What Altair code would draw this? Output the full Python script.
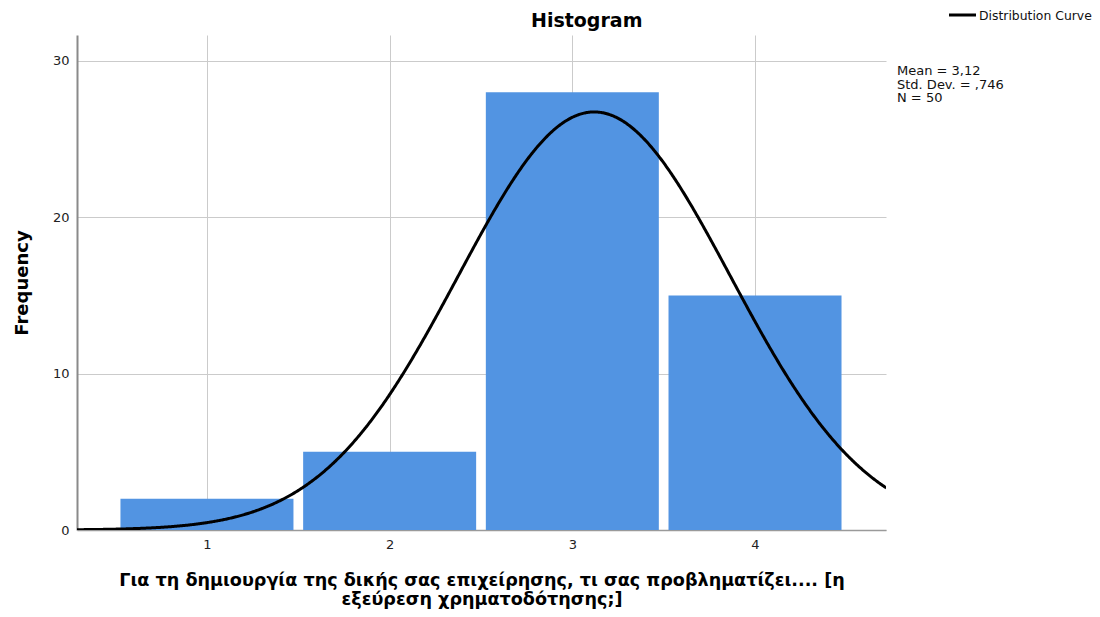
import altair as alt
import pandas as pd

# ---- data ----
categories = [1, 2, 3, 4]
frequencies = [2, 5, 28, 15]
mean_value = 3.12
std_dev = 0.746
n_total = 50
x_tick_values = [1, 2, 3, 4]
y_tick_values = [0, 10, 20, 30]
stats_lines = ["Mean = 3,12", "Std. Dev. = ,746", "N = 50"]
chart_title = "Histogram"
x_title = [
    "Για τη δημιουργία της δικής σας επιχείρησης, τι σας προβληματίζει.... [η",
    "εξεύρεση χρηματοδότησης;]",
]
y_title = "Frequency"
legend_label = "Distribution Curve"

# ---- layout / style ----
X_DOMAIN = [0.2886, 4.717]
Y_DOMAIN = [0, 31.66]
HALF_BAR = 0.4735
BIN_WIDTH = 1
FONT = "DejaVu Sans"
BAR_COLOR = "#5294E2"
GRID_COLOR = "#cbcbcb"

bars_df = pd.DataFrame({"value": categories, "freq": frequencies})

x_scale = alt.Scale(domain=X_DOMAIN, nice=False, zero=False)
y_scale = alt.Scale(domain=Y_DOMAIN, nice=False, zero=True)

x_axis = alt.Axis(
    values=x_tick_values, format="d", title=x_title,
    grid=True, gridColor=GRID_COLOR, gridWidth=1,
    ticks=False, tickSize=0,
    domainColor="#9a9a9a", domainWidth=1.5,
    labelFont=FONT, labelFontSize=13, labelColor="#222222", labelPadding=8,
    titleFont=FONT, titleFontSize=17.6, titleFontWeight="bold", titleColor="#000000",
    titleBaseline="alphabetic", titleY=55, titleLineHeight=19.5,
)
y_axis = alt.Axis(
    values=y_tick_values, format="d", title=y_title,
    grid=True, gridColor=GRID_COLOR, gridWidth=1,
    ticks=False, tickSize=0,
    domainColor="#8a8a8a", domainWidth=2,
    labelFont=FONT, labelFontSize=13, labelColor="#222222", labelPadding=8,
    titleFont=FONT, titleFontSize=18, titleFontWeight="bold", titleColor="#000000",
    titleAngle=270, titleBaseline="alphabetic", titleAlign="center",
    titleX=-50, titleY=247.5,
)

bars = (
    alt.Chart(bars_df)
    .transform_calculate(
        x_start=f"datum.value - {HALF_BAR}",
        x_end=f"datum.value + {HALF_BAR}",
    )
    .mark_rect(color=BAR_COLOR)
    .encode(
        x=alt.X("x_start:Q", scale=x_scale, axis=x_axis),
        x2="x_end:Q",
        y=alt.Y("freq:Q", scale=y_scale, axis=y_axis),
        y2=alt.datum(0),
    )
)

curve = (
    alt.Chart(alt.sequence(X_DOMAIN[0], X_DOMAIN[1] + 0.005, 0.005, as_="x"))
    .transform_calculate(
        density=f"{n_total} * {BIN_WIDTH} * exp(-0.5 * pow((datum.x - {mean_value}) / {std_dev}, 2)) / ({std_dev} * sqrt(2 * PI))"
    )
    .mark_line(color="black", strokeWidth=3, clip=True)
    .encode(
        x=alt.X("x:Q", scale=x_scale),
        y=alt.Y("density:Q", scale=y_scale),
    )
)

one = pd.DataFrame({"k": [0]})

title_mark = alt.Chart(one).mark_text(
    font=FONT, fontSize=19, fontWeight="bold", color="black",
    align="center", baseline="alphabetic",
).encode(x=alt.value(509.7), y=alt.value(-8.3), text=alt.value(chart_title))

legend_rule = alt.Chart(one).mark_rule(color="black", strokeWidth=3).encode(
    x=alt.value(872), x2=alt.value(899), y=alt.value(-20)
)
legend_text = alt.Chart(one).mark_text(
    font=FONT, fontSize=12.4, color="#111111", align="left", baseline="middle",
).encode(x=alt.value(902), y=alt.value(-19), text=alt.value(legend_label))

stats_text = alt.Chart(one).mark_text(
    font=FONT, fontSize=13, color="#111111", align="left", baseline="alphabetic",
    lineHeight=13.5,
).encode(x=alt.value(820), y=alt.value(40.3), text=alt.value(stats_lines))

chart = (
    alt.layer(bars, curve, title_mark, legend_rule, legend_text, stats_text)
    .properties(
        width=809, height=495,
        padding={"left": 69, "top": 27, "right": 206, "bottom": 79},
        autosize=alt.AutoSizeParams(type="none"),
    )
    .configure_view(strokeWidth=0)
)

chart.save("out.html", embed_options={"renderer": "svg", "actions": False})
